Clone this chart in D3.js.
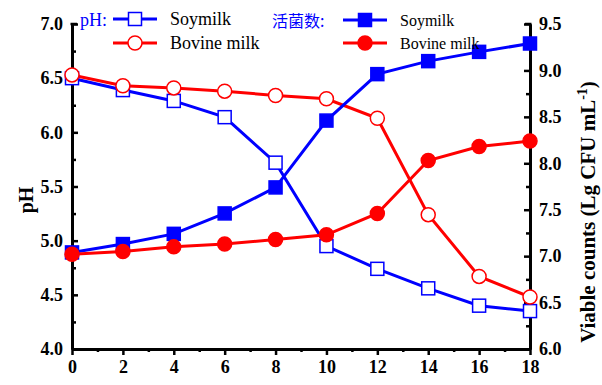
<!DOCTYPE html>
<html>
<head>
<meta charset="utf-8">
<script src="https://cdn.jsdelivr.net/npm/d3@7/dist/d3.min.js"></script>
<style>
  body { margin: 0; background: #fff; }
</style>
</head>
<body>
<div id="chart-area"></div>
<script>
// data
var hours = [0, 2, 4, 6, 8, 10, 12, 14, 16, 18];
var phSoy = [6.50, 6.39, 6.29, 6.14, 5.72, 4.95, 4.74, 4.56, 4.40, 4.35];
var phBovine = [6.53, 6.43, 6.41, 6.38, 6.34, 6.31, 6.13, 5.24, 4.67, 4.48];
var countSoy = [7.04, 7.13, 7.24, 7.46, 7.74, 8.46, 8.96, 9.10, 9.20, 9.29];
var countBovine = [7.02, 7.05, 7.10, 7.13, 7.18, 7.23, 7.46, 8.03, 8.18, 8.24];
var xTicks = [0, 2, 4, 6, 8, 10, 12, 14, 16, 18];
var phTicks = [4.0, 4.5, 5.0, 5.5, 6.0, 6.5, 7.0];
var countTicks = [6.0, 6.5, 7.0, 7.5, 8.0, 8.5, 9.0, 9.5];

var blue = '#0000ff';
var red = '#ff0000';
var serif = '"Liberation Serif", "Times New Roman", serif';

var margin = { top: 24, right: 72, bottom: 36, left: 72 };
var width = 602 - margin.left - margin.right;
var height = 385 - margin.top - margin.bottom;

var svg = d3.select('#chart-area')
    .append('svg')
        .attr('width', 602)
        .attr('height', 385)
        .attr('font-family', serif);

var g = svg.append('g')
    .attr('transform', 'translate(' + margin.left + ',' + margin.top + ')');

var x = d3.scaleLinear().domain([0, 18]).range([0, width]);
var yL = d3.scaleLinear().domain([4, 7]).range([height, 0]);
var yR = d3.scaleLinear().domain([6, 9.5]).range([height, 0]);

// x axis
g.append('g')
    .attr('transform', 'translate(0,' + height + ')')
    .call(d3.axisBottom(x).tickValues(xTicks).tickSize(6).tickSizeOuter(0).tickPadding(5).tickFormat(d3.format('d')));
g.append('g')
    .attr('transform', 'translate(0,' + height + ')')
    .call(d3.axisBottom(x).tickValues(d3.range(1, 18, 2)).tickSize(3).tickSizeOuter(0).tickFormat(''));

// left axis, ticks inward
g.append('g')
    .call(d3.axisLeft(yL).tickValues(phTicks).tickSize(-6).tickSizeOuter(0).tickPadding(9).tickFormat(d3.format('.1f')));
g.append('g')
    .call(d3.axisLeft(yL).tickValues(d3.range(4.25, 7, 0.5)).tickSize(-4).tickSizeOuter(0).tickFormat(''));

// right axis, ticks inward
g.append('g')
    .attr('transform', 'translate(' + width + ',0)')
    .call(d3.axisRight(yR).tickValues(countTicks).tickSize(-6).tickSizeOuter(0).tickPadding(9).tickFormat(d3.format('.1f')));
g.append('g')
    .attr('transform', 'translate(' + width + ',0)')
    .call(d3.axisRight(yR).tickValues(d3.range(6.25, 9.5, 0.5)).tickSize(-4).tickSizeOuter(0).tickFormat(''));

g.selectAll('.domain').attr('stroke', '#000').attr('stroke-width', 3);
g.selectAll('.tick line').attr('stroke', '#000').attr('stroke-width', 2.5);
g.selectAll('.tick text')
    .attr('font-family', serif)
    .attr('font-size', '18px')
    .attr('font-weight', 'bold')
    .attr('fill', '#000');

// caps at top of y axes
g.append('line').attr('x1', -1.5).attr('x2', 5).attr('y1', 0).attr('y2', 0).attr('stroke', '#000').attr('stroke-width', 2.5);
g.append('line').attr('x1', width + 1.5).attr('x2', width - 5).attr('y1', 0).attr('y2', 0).attr('stroke', '#000').attr('stroke-width', 2.5);

// axis labels
svg.append('text')
    .attr('transform', 'translate(33,200) rotate(-90)')
    .attr('text-anchor', 'middle')
    .attr('font-family', serif)
    .attr('font-size', '20px')
    .attr('font-weight', 'bold')
    .text('pH');

var rl = svg.append('text')
    .attr('transform', 'translate(595,212) rotate(-90)')
    .attr('text-anchor', 'middle')
    .attr('font-family', serif)
    .attr('font-size', '21px')
    .attr('font-weight', 'bold');
rl.append('tspan').text('Viable counts (Lg CFU mL');
rl.append('tspan').attr('dy', -8).attr('font-size', '14px').text('-1');
rl.append('tspan').attr('dy', 8).text(')');

// series
var series = [
    { vals: phSoy, y: yL, color: blue, shape: 'square', filled: false },
    { vals: phBovine, y: yL, color: red, shape: 'circle', filled: false },
    { vals: countSoy, y: yR, color: blue, shape: 'square', filled: true },
    { vals: countBovine, y: yR, color: red, shape: 'circle', filled: true }
];

function drawMarker(sel, s, cx, cy) {
    if (s.shape === 'square') {
        sel.append('rect')
            .attr('x', cx - 6.5).attr('y', cy - 6.5)
            .attr('width', 13).attr('height', 13)
            .attr('fill', s.filled ? s.color : '#fff')
            .attr('stroke', s.color)
            .attr('stroke-width', 1.5);
    } else {
        sel.append('circle')
            .attr('cx', cx).attr('cy', cy)
            .attr('r', 7)
            .attr('fill', s.filled ? s.color : '#fff')
            .attr('stroke', s.color)
            .attr('stroke-width', 1.5);
    }
}

series.forEach(function(s) {
    var line = d3.line()
        .x(function(d, i) { return x(hours[i]); })
        .y(function(d) { return s.y(d); });
    g.append('path')
        .datum(s.vals)
        .attr('d', line)
        .attr('fill', 'none')
        .attr('stroke', s.color)
        .attr('stroke-width', 3);
});

series.forEach(function(s) {
    var mg = g.append('g');
    s.vals.forEach(function(d, i) {
        drawMarker(mg, s, x(hours[i]), s.y(d));
    });
});

// legends
function legendRow(x0, y0, s, label, size) {
    svg.append('line')
        .attr('x1', x0).attr('x2', x0 + 44)
        .attr('y1', y0).attr('y2', y0)
        .attr('stroke', s.color).attr('stroke-width', 3);
    drawMarker(svg, s, x0 + 22, y0);
    svg.append('text')
        .attr('x', x0 + 57).attr('y', y0 + 6)
        .attr('font-family', serif)
        .attr('font-size', size)
        .attr('fill', '#000')
        .text(label);
}

svg.append('text')
    .attr('x', 80).attr('y', 26)
    .attr('font-family', serif)
    .attr('font-size', '18px')
    .attr('fill', blue)
    .text('pH:');
legendRow(113, 19, series[0], 'Soymilk', '18px');
legendRow(113, 43, series[1], 'Bovine milk', '18px');

svg.append('text')
    .attr('x', 272).attr('y', 27)
    .attr('font-size', '16px')
    .attr('fill', blue)
    .attr('font-family', '"Noto Sans CJK SC", sans-serif')
    .text('活菌数:');
legendRow(343, 20, series[2], 'Soymilk', '16px');
legendRow(343, 43, series[3], 'Bovine milk', '16px');
</script>
</body>
</html>
